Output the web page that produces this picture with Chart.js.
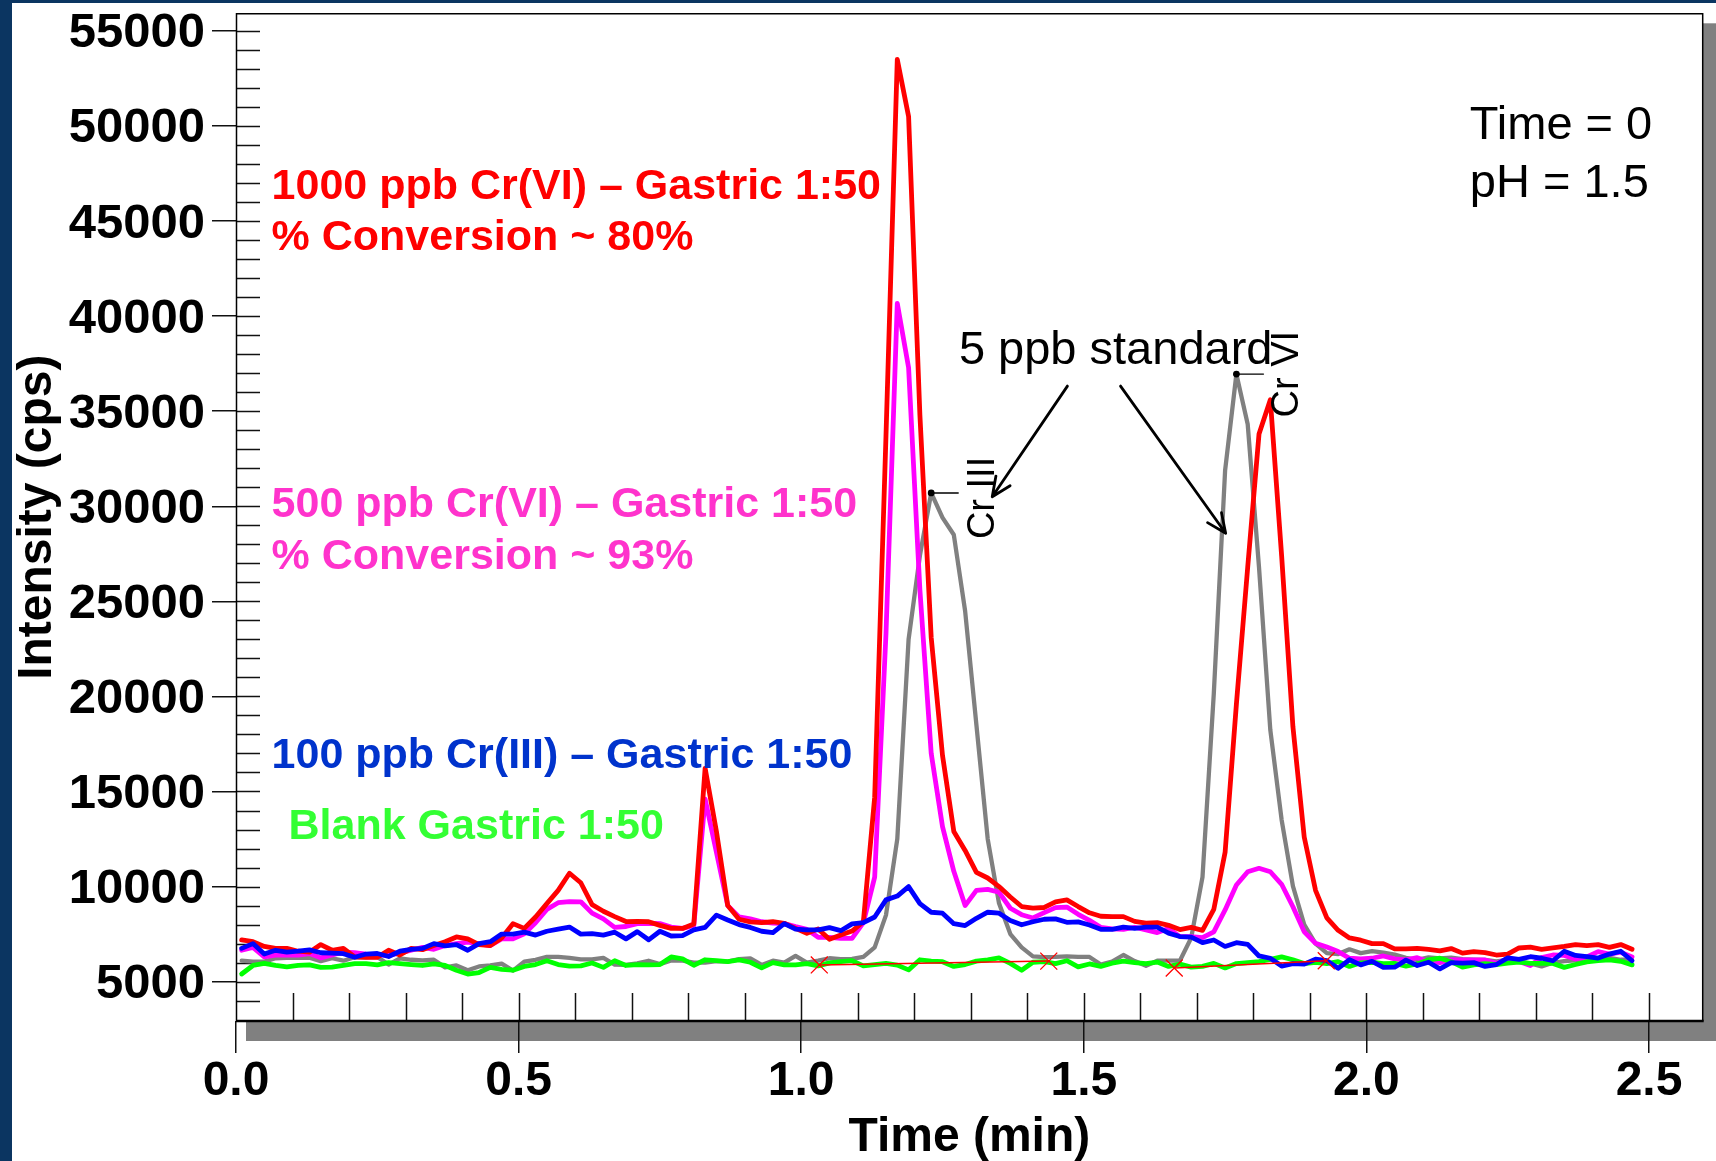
<!DOCTYPE html>
<html><head><meta charset="utf-8">
<script src="https://cdn.jsdelivr.net/npm/chart.js@4.4.1/dist/chart.umd.min.js"></script>
<style>html,body{margin:0;padding:0;background:#fff;overflow:hidden}canvas{display:block}</style>
</head><body>
<canvas id="c" width="1716" height="1161"></canvas>
<script>
// ---- data (time in min, intensity in cps) ----
const times = [
0.01,0.03,0.05,0.07,0.09,0.11,0.13,0.15,0.17,0.19,
0.21,0.23,0.25,0.27,0.29,0.31,0.33,0.35,0.37,0.39,
0.41,0.43,0.45,0.47,0.49,0.51,0.53,0.55,0.57,0.59,
0.61,0.63,0.65,0.67,0.69,0.71,0.73,0.75,0.77,0.79,
0.81,0.83,0.85,0.87,0.89,0.91,0.93,0.95,0.97,0.99,
1.01,1.03,1.05,1.07,1.09,1.11,1.13,1.15,1.17,1.19,
1.21,1.23,1.25,1.27,1.29,1.31,1.33,1.35,1.37,1.39,
1.41,1.43,1.45,1.47,1.49,1.51,1.53,1.55,1.57,1.59,
1.61,1.63,1.65,1.67,1.69,1.71,1.73,1.75,1.77,1.79,
1.81,1.83,1.85,1.87,1.89,1.91,1.93,1.95,1.97,1.99,
2.01,2.03,2.05,2.07,2.09,2.11,2.13,2.15,2.17,2.19,
2.21,2.23,2.25,2.27,2.29,2.31,2.33,2.35,2.37,2.39,
2.41,2.43,2.45,2.47];

const cr6_1000ppb = [
7200,7100,6850,6750,6750,6600,6550,6950,6650,6750,
6300,6280,6280,6650,6400,6750,6680,6900,7100,7350,
7250,6950,6900,7300,8050,7800,8400,9100,9800,10700,
10200,9050,8700,8420,8160,8170,8150,7960,7800,7800,
8030,16220,12900,9000,8280,8140,8100,8150,8070,7800,
7540,7770,7230,7450,7660,8150,14700,33700,53500,50500,
34800,23100,16900,12900,11900,10750,10450,10000,9450,8950,
8870,8900,9200,9300,8950,8620,8440,8420,8420,8170,
8080,8100,7960,7740,7850,7700,8800,11800,19600,26800,
33800,35600,27400,18400,12600,9800,8350,7700,7300,7180,
7000,7000,6720,6720,6750,6700,6620,6740,6500,6580,
6530,6400,6450,6770,6810,6700,6770,6850,6950,6890,
6950,6800,6950,6700];

const cr6_500ppb = [
6650,6800,6300,6400,6400,6400,6480,6250,6400,6550,
6520,6450,6400,6400,6500,6650,6800,6700,6900,7000,
7080,6980,6900,7250,7250,7520,8100,8800,9150,9210,
9200,8600,8300,7850,7900,8050,8070,8050,7870,7800,
7950,14600,11800,9000,8400,8300,8150,8080,8050,7890,
7750,7330,7330,7280,7280,8100,10500,23300,40670,37290,
25600,17000,13150,10800,9000,9800,9850,9700,8860,8520,
8350,8630,8890,8920,8540,8220,7860,7770,7750,7860,
7720,7580,7800,7370,7370,7310,7620,8770,10080,10780,
10960,10780,10120,8940,7620,7020,6820,6580,6230,6200,
6230,6350,6200,6140,6260,6050,6000,6150,6140,6140,
6140,5960,6200,6060,5850,6270,6400,6380,6190,6300,
6580,6450,6550,6300];

const cr3_100ppb = [
6750,7000,6450,6650,6550,6600,6670,6520,6500,6470,
6280,6450,6480,6320,6600,6700,6750,7000,6880,6950,
6650,7000,7100,7500,7500,7600,7450,7650,7760,7870,
7500,7520,7450,7600,7250,7630,7200,7650,7400,7420,
7720,7850,8500,8240,8000,7850,7650,7580,8050,7760,
7720,7720,7840,7680,8040,8100,8400,9300,9500,10000,
9100,8650,8600,8050,7950,8330,8650,8600,8220,7990,
8150,8280,8300,8120,8140,7980,7750,7750,7870,7800,
7870,7870,7550,7370,7340,7050,7190,6850,7050,6960,
6350,6230,5820,5950,5920,6180,6100,5700,6150,5880,
6070,5750,5760,6130,5850,6020,5670,6000,5970,6000,
5800,5900,6250,6170,6310,6230,6100,6600,6380,6320,
6240,6450,6600,6100];

const blankGastric = [
5400,5850,5960,5850,5780,5850,5880,5750,5760,5850,
5950,5950,5880,6000,5950,5900,5850,5940,5850,5600,
5400,5480,5750,5650,5600,5800,5900,6100,5900,5820,
5830,5980,5750,6100,5850,5900,5880,5900,6300,6200,
5860,6150,6100,6050,6140,6020,5720,6000,5880,5880,
5950,5830,5990,6050,6100,5830,5900,5960,5870,5620,
6150,6080,6050,5800,5900,6080,6150,6250,5960,5600,
6020,6050,5950,6100,5780,5930,5800,5970,6080,6000,
5950,6030,5800,5920,5760,5800,5960,5720,5950,6000,
6050,6170,6300,6150,5950,6020,5950,6050,5800,5990,
6020,5950,5960,5820,5930,6150,6230,6050,5760,5880,
5950,5900,5980,6030,5960,5960,5960,5750,5900,6040,
6100,6140,6070,5880];

const std5ppb = [
6100,6050,6050,6230,6250,6250,6260,6080,6230,6100,
6280,6280,6300,5900,6220,6150,6120,6150,5750,5850,
5600,5800,5850,5950,5580,6050,6150,6300,6300,6250,
6170,6170,6250,5900,5880,5960,6100,5920,6120,6100,
6000,6000,6080,6050,6180,6220,5880,6100,6000,6350,
6000,6100,6230,6180,6200,6300,6800,8500,12500,23000,
27400,30700,29400,28500,24500,18500,12500,9120,7500,6800,
6330,6290,6300,6330,6300,6300,5900,6050,6400,6080,
5830,6100,6100,6100,7300,10500,20150,31880,36950,34310,
26790,18230,13510,10020,8000,7000,6500,6450,6700,6500,
6600,6530,6420,6250,6140,6280,6220,6260,6180,6160,
6140,6060,6140,6050,5960,5800,5990,6080,6120,6250,
6200,6250,6150,6150];

// peak-integration baselines (start/end time, start/end intensity)
const baseT = [[1.032, 1.438], [1.660, 1.929]];
const baseY = [[5880, 6080], [5720, 6100]];

// axis ticks
const xTickValues = [0, 0.5, 1.0, 1.5, 2.0, 2.5];
const xTickLabels = ['0.0','0.5','1.0','1.5','2.0','2.5'];
const yTickValues = [5000,10000,15000,20000,25000,30000,35000,40000,45000,50000,55000];

const FONT = '"Liberation Sans", Arial, Helvetica, sans-serif';

// annotation texts (anchored in data units)
const notes = [
  {text:'1000 ppb Cr(VI) \u2013 Gastric 1:50', t:0.063, v:46150, color:'#ff0000', font:'bold 43px'},
  {text:'% Conversion ~ 80%',                  t:0.063, v:43470, color:'#ff0000', font:'bold 43px'},
  {text:'500 ppb Cr(VI) \u2013 Gastric 1:50',  t:0.063, v:29450, color:'#ff33cc', font:'bold 43px'},
  {text:'% Conversion ~ 93%',                  t:0.063, v:26680, color:'#ff33cc', font:'bold 43px'},
  {text:'100 ppb Cr(III) \u2013 Gastric 1:50', t:0.063, v:16240, color:'#0033cc', font:'bold 43px'},
  {text:'Blank Gastric 1:50',                  t:0.093, v:12500, color:'#33ff33', font:'bold 43px'},
  {text:'Time = 0',                            t:2.183, v:49290, color:'#000000', font:'47px'},
  {text:'pH = 1.5',                            t:2.183, v:46260, color:'#000000', font:'47px'},
  {text:'5 ppb standard',                      t:1.279, v:37480, color:'#000000', font:'47px'}
];
const arrows = [
  {t0:1.471, v0:36320, t1:1.338, v1:30500},
  {t0:1.565, v0:36320, t1:1.751, v1:28580}
];
const peakLabels = [
  {text:'Cr III', from:1.10, to:1.40, dx:52, dy:5},
  {text:'Cr VI',  from:1.60, to:1.90, dx:51, dy:0}
];

const deco = {
  id:'deco',
  beforeDraw(chart){
    const {ctx, chartArea:a, width:W, height:H} = chart;
    ctx.save();
    ctx.fillStyle = '#ffffff'; ctx.fillRect(0,0,W,H);
    ctx.fillStyle = '#0b3561'; ctx.fillRect(0,0,12,H); ctx.fillRect(0,0,W,3);
    ctx.fillStyle = '#808080';
    ctx.fillRect(a.left+10, a.top+10, W-(a.left+10), a.bottom-a.top+10);
    ctx.fillStyle = '#ffffff';
    ctx.fillRect(a.left, a.top, a.right-a.left, a.bottom-a.top);
    ctx.restore();
  },
  beforeDatasetsDraw(chart){
    const {ctx, chartArea:a, scales:{x, y}} = chart;
    ctx.save();
    ctx.strokeStyle = '#111'; ctx.lineWidth = 1.5;
    ctx.beginPath();
    for (let k = 4; k <= 55; k++) {
      const py = Math.round(y.getPixelForValue(k*1000)) + 0.5;
      ctx.moveTo(a.left, py); ctx.lineTo(a.left+24, py);
    }
    for (let k = 1; k <= 25; k++) {
      const px = Math.round(x.getPixelForValue(k/10)) + 0.5;
      ctx.moveTo(px, a.bottom); ctx.lineTo(px, a.bottom-28);
    }
    ctx.stroke();
    ctx.restore();
  },
  afterDraw(chart){
    const {ctx, chartArea:a, scales:{x, y}} = chart;
    ctx.save();
    // frame
    ctx.strokeStyle = '#000';
    ctx.lineWidth = 1.5;
    ctx.beginPath();
    ctx.moveTo(a.left+0.5, a.bottom); ctx.lineTo(a.left+0.5, a.top+0.5);
    ctx.lineTo(a.right, a.top+0.5); ctx.lineTo(a.right, a.bottom);
    ctx.stroke();
    ctx.lineWidth = 2.5;
    ctx.beginPath(); ctx.moveTo(a.left, a.bottom); ctx.lineTo(a.right+1, a.bottom); ctx.stroke();

    // texts
    ctx.textAlign = 'left'; ctx.textBaseline = 'alphabetic';
    notes.forEach(n => {
      ctx.font = n.font + ' ' + FONT;
      ctx.fillStyle = n.color;
      ctx.fillText(n.text, x.getPixelForValue(n.t), y.getPixelForValue(n.v));
    });

    // arrows
    ctx.strokeStyle = '#000'; ctx.lineWidth = 2.8; ctx.lineCap = 'round'; ctx.lineJoin = 'round';
    arrows.forEach(r => {
      const x0 = x.getPixelForValue(r.t0), y0 = y.getPixelForValue(r.v0);
      const x1 = x.getPixelForValue(r.t1), y1 = y.getPixelForValue(r.v1);
      const ang = Math.atan2(y1-y0, x1-x0), L = 21, sp = 0.42;
      ctx.beginPath();
      ctx.moveTo(x0, y0); ctx.lineTo(x1, y1);
      ctx.moveTo(x1 - L*Math.cos(ang-sp), y1 - L*Math.sin(ang-sp));
      ctx.lineTo(x1, y1);
      ctx.lineTo(x1 - L*Math.cos(ang+sp), y1 - L*Math.sin(ang+sp));
      ctx.stroke();
    });

    // peak labels on the standard trace
    peakLabels.forEach(p => {
      let best = -1;
      times.forEach((t, i) => {
        if (t >= p.from && t <= p.to && (best < 0 || std5ppb[i] > std5ppb[best])) best = i;
      });
      const px = x.getPixelForValue(times[best]), py = y.getPixelForValue(std5ppb[best]);
      ctx.fillStyle = '#000';
      ctx.beginPath(); ctx.arc(px, py, 3.4, 0, Math.PI*2); ctx.fill();
      ctx.lineWidth = 1.4;
      ctx.beginPath(); ctx.moveTo(px, py); ctx.lineTo(px+27, py); ctx.stroke();
      ctx.save();
      ctx.translate(px+p.dx, py+p.dy);
      ctx.rotate(-Math.PI/2);
      ctx.font = '38px ' + FONT;
      ctx.textAlign = 'center'; ctx.textBaseline = 'middle';
      ctx.fillText(p.text, 0, 0);
      ctx.restore();
    });
    ctx.restore();
  }
};

const line = (data, color, width, order) => ({
  data, borderColor:color, backgroundColor:color, borderWidth:width, order,
  pointRadius:0, fill:false, tension:0
});

const datasets = [
  line(std5ppb, '#808080', 4.3, 4),
  line(cr6_500ppb, '#ff00ff', 4.8, 3),
  line(cr6_1000ppb, '#ff0000', 4.8, 2),
  line(blankGastric, '#00ff00', 4.8, 1),
  line(cr3_100ppb, '#0000ff', 4.8, 0)
];
baseT.forEach((seg, i) => {
  datasets.push({
    data: seg.map((t, j) => ({x:t, y:baseY[i][j]})),
    borderColor:'#ff0000', borderWidth:1.5, order:-1,
    pointStyle:'crossRot', pointRadius:12, pointBorderColor:'#ff0000', pointBorderWidth:1.3,
    pointBackgroundColor:'#ff0000', tension:0
  });
});

const xFont = {family:FONT, size:48, weight:'bold'};
const yFont = {family:FONT, size:49, weight:'bold'};

new Chart(document.getElementById('c'), {
  type:'line',
  data:{labels:times, datasets},
  options:{
    responsive:false, animation:false, devicePixelRatio:1,
    layout:{padding:{left:0, right:12, top:13, bottom:0}},
    plugins:{legend:{display:false}, tooltip:{enabled:false}},
    elements:{line:{borderJoinStyle:'round', borderCapStyle:'round'}},
    scales:{
      x:{
        type:'linear', min:0, max:2.595,
        afterBuildTicks(s){ s.ticks = xTickValues.map(v => ({value:v})); },
        afterFit(s){ s.height = 140; s.paddingLeft = 0; s.paddingRight = 0; },
        ticks:{autoSkip:false, maxRotation:0, minRotation:0, padding:0,
               color:'#000', font:xFont,
               callback:(v)=>{ const i = xTickValues.indexOf(v); return i >= 0 ? xTickLabels[i] : ''; }},
        grid:{drawOnChartArea:false, drawTicks:true, tickLength:32, color:'#111', lineWidth:1.5},
        border:{display:false},
        title:{display:true, text:'Time (min)', color:'#000',
               font:{family:FONT, size:48, weight:'bold', lineHeight:0.95}, padding:{top:0, bottom:0}}
      },
      y:{
        type:'linear', min:2930, max:55925,
        afterBuildTicks(s){ s.ticks = yTickValues.map(v => ({value:v})); },
        afterFit(s){ s.width = 236; s.paddingTop = 0; s.paddingBottom = 0; },
        ticks:{autoSkip:false, padding:7, labelOffset:3,
               color:'#000', font:yFont, callback:(v)=>String(Math.round(v))},
        grid:{drawOnChartArea:false, drawTicks:true, tickLength:24, color:'#111', lineWidth:1.5},
        border:{display:false},
        title:{display:true, text:'Intensity (cps)', color:'#000', font:xFont, padding:{top:9, bottom:0}}
      }
    }
  },
  plugins:[deco]
});
</script>
</body></html>
